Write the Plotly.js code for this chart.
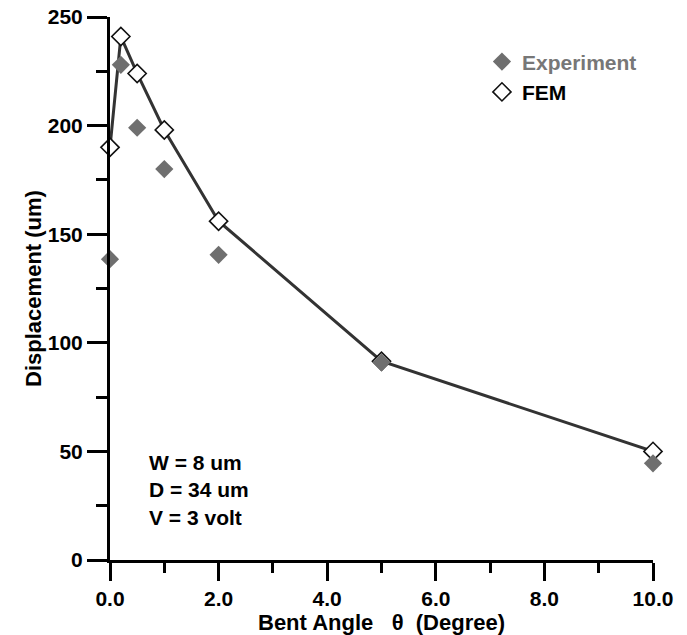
<!DOCTYPE html>
<html>
<head>
<meta charset="utf-8">
<script src="https://cdn.plot.ly/plotly-3.0.1.min.js"></script>
<style>html,body{margin:0;padding:0;background:#fff;}#chart{width:687px;height:635px;}</style>
</head>
<body>
<div id="chart"></div>
<script>
const angles = [0, 0.2, 0.5, 1, 2, 5, 10];
const experiment = [138.5, 228, 199, 180, 140.5, 91, 44.5];
const fem = [190, 241, 224, 198, 156, 91.5, 50];
const xTickVals = [0, 2, 4, 6, 8, 10];
const xTickText = ['0.0', '2.0', '4.0', '6.0', '8.0', '10.0'];
const yTickVals = [0, 50, 100, 150, 200, 250];
const yTickText = ['0', '50', '100', '150', '200', '250'];
const noteLines = ['W = 8 um', 'D = 34 um', 'V = 3 volt'];

const FONT = 'Liberation Sans, Arial, sans-serif';
const NB = '\u00A0';

const traces = [
  {
    x: angles, y: fem, mode: 'lines', type: 'scatter',
    line: {color: '#333333', width: 3},
    showlegend: false, cliponaxis: false, hoverinfo: 'skip'
  },
  {
    x: angles, y: fem, mode: 'markers', type: 'scatter',
    name: '<b>FEM</b>', legendrank: 2,
    marker: {symbol: 'diamond', size: 14, color: '#ffffff', line: {color: '#111111', width: 1.6}},
    cliponaxis: false
  },
  {
    x: angles, y: experiment, mode: 'markers', type: 'scatter',
    name: '<b><span style="color:#777777">Experiment</span></b>', legendrank: 1,
    marker: {symbol: 'diamond', size: 14, color: '#6f6f6f', line: {color: '#6f6f6f', width: 0}},
    cliponaxis: false
  }
];

const layout = {
  width: 687, height: 635,
  margin: {l: 110, r: 34, t: 17, b: 75},
  paper_bgcolor: '#ffffff', plot_bgcolor: '#ffffff',
  font: {family: FONT, color: '#000000', size: 20},
  showlegend: true,
  legend: {
    x: 0.685, y: 0.955, xanchor: 'left', yanchor: 'top',
    bgcolor: 'rgba(0,0,0,0)', font: {family: FONT, size: 21, color: '#000'},
    tracegroupgap: 0, itemwidth: 30
  },
  xaxis: {
    range: [0, 10], showgrid: false, zeroline: false,
    showline: true, linecolor: '#000', linewidth: 3,
    ticks: 'outside', ticklen: 18, tickwidth: 3, tickcolor: '#000',
    tickvals: xTickVals, ticktext: xTickText.map(t => '<b>' + t + '</b>'),
    tickfont: {family: FONT, size: 21, color: '#000'},
    minor: {ticks: 'outside', dtick: 1, tick0: 0, ticklen: 10, tickwidth: 3, tickcolor: '#000', showgrid: false},
    title: {text: '<b>Bent Angle' + NB + NB + NB + 'θ' + NB + NB + '(Degree)</b>', font: {family: FONT, size: 22, color: '#000'}, standoff: 2}
  },
  yaxis: {
    range: [0, 250], showgrid: false, zeroline: false,
    showline: true, linecolor: '#000', linewidth: 3,
    ticks: 'outside', ticklen: 20, tickwidth: 3, tickcolor: '#000',
    tickvals: yTickVals, ticktext: yTickText.map(t => '<b>' + t + '</b>'),
    tickfont: {family: FONT, size: 21, color: '#000'},
    minor: {ticks: 'outside', dtick: 25, tick0: 0, ticklen: 11, tickwidth: 3, tickcolor: '#000', showgrid: false},
    title: {text: '<b>Displacement (um)</b>', font: {family: FONT, size: 22, color: '#000'}, standoff: 1}
  },
  annotations: [
    {
      x: 0.68, y: 51, xref: 'x', yref: 'y', xanchor: 'left', yanchor: 'top',
      text: '<b>' + noteLines.join('<br>') + '</b>', align: 'left', showarrow: false,
      font: {family: FONT, size: 21, color: '#000'}
    }
  ]
};

Plotly.newPlot('chart', traces, layout, {displayModeBar: false, staticPlot: true});
</script>
</body>
</html>
